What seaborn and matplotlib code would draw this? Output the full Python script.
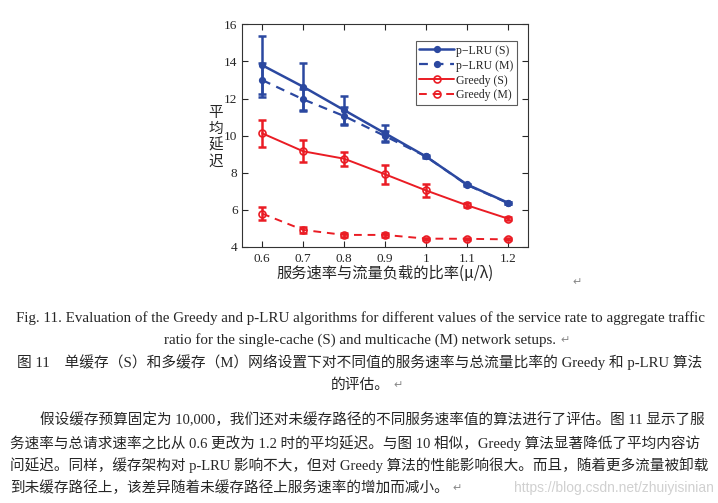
import numpy as np
import pandas as pd
import matplotlib.pyplot as plt
import seaborn as sns

# values
ratio = [0.6, 0.7, 0.8, 0.9, 1.0, 1.1, 1.2]
plru_s = [13.8, 12.64, 11.38, 10.13, 8.88, 7.37, 6.39]
plru_s_err = [1.55, 1.3, 0.75, 0.45, 0.08, 0.05, 0.05]
plru_m = [13.0, 11.96, 11.06, 9.98, 8.88, 7.35, 6.37]
plru_m_err = [0.9, 0.55, 0.48, 0.25, 0.05, 0.04, 0.04]
greedy_s = [10.13, 9.16, 8.76, 7.92, 7.05, 6.25, 5.53]
greedy_s_err = [0.73, 0.6, 0.38, 0.5, 0.33, 0.12, 0.1]
greedy_m = [5.8, 4.92, 4.65, 4.65, 4.45, 4.44, 4.41]
greedy_m_err = [0.33, 0.15, 0.12, 0.1, 0.05, 0.05, 0.05]

series_names = ["p\u2212LRU (S)", "p\u2212LRU (M)", "Greedy (S)", "Greedy (M)"]
yticks = [4, 6, 8, 10, 12, 14, 16]
xticks = [0.6, 0.7, 0.8, 0.9, 1.0, 1.1, 1.2]
xticklabels = ["0.6", "0.7", "0.8", "0.9", "1", "1.1", "1.2"]

caption_en = [
    "Fig. 11. Evaluation of the Greedy and p-LRU algorithms for different values of the service rate to aggregate traffic",
    "ratio for the single-cache (S) and multicache (M) network setups.",
]
caption_cn = [
    "图 11\u3000单缓存（S）和多缓存（M）网络设置下对不同值的服务速率与总流量比率的 Greedy 和 p-LRU 算法",
    "的评估。",
]
paragraph = [
    "假设缓存预算固定为 10,000，我们还对未缓存路径的不同服务速率值的算法进行了评估。图 11 显示了服",
    "务速率与总请求速率之比从 0.6 更改为 1.2 时的平均延迟。与图 10 相似，Greedy 算法显著降低了平均内容访",
    "问延迟。同样，缓存架构对 p-LRU 影响不大，但对 Greedy 算法的性能影响很大。而且，随着更多流量被卸载",
    "到未缓存路径上，该差异随着未缓存路径上服务速率的增加而减小。",
]

sns.set_style("ticks", {"xtick.direction": "in", "ytick.direction": "in"})
plt.rcParams["font.family"] = ["Liberation Serif", "Noto Sans CJK SC", "DejaVu Sans"]

blue = "#2B48A0"
red = "#EA1C24"

df = pd.DataFrame({
    "ratio": ratio * 4,
    "delay": plru_s + plru_m + greedy_s + greedy_m,
    "err": plru_s_err + plru_m_err + greedy_s_err + greedy_m_err,
    "series": np.repeat(series_names, len(ratio)),
})

styles = {
    series_names[0]: dict(color=blue, ls="-", lw=1.8, marker="o", ms=4, mfc=blue),
    series_names[1]: dict(color=blue, ls=(0, (4, 3)), lw=1.6, marker="o", ms=4, mfc=blue),
    series_names[2]: dict(color=red, ls="-", lw=1.4, marker="o", ms=5, mfc="none"),
    series_names[3]: dict(color=red, ls=(0, (4, 3)), lw=1.4, marker="o", ms=5, mfc="none"),
}

fig = plt.figure(figsize=(7.18, 5.03), dpi=100)
ax = fig.add_axes([0.3366, 0.509, 0.3992, 0.4425])

for name in series_names:
    d = df[df["series"] == name]
    st = styles[name]
    ax.errorbar(d["ratio"], d["delay"], yerr=d["err"], fmt="none",
                ecolor=st["color"], elinewidth=1.8, capsize=3, capthick=1.8, zorder=2)
    sns.lineplot(data=d, x="ratio", y="delay", ax=ax, color=st["color"],
                 linestyle=st["ls"], linewidth=st["lw"], marker=st["marker"],
                 markersize=st["ms"], markerfacecolor=st["mfc"],
                 markeredgecolor=st["color"], markeredgewidth=1.2,
                 label=name, zorder=3)

ax.set_xlim(0.55, 1.25)
ax.set_ylim(4, 16)
ax.set_xticks(xticks)
ax.set_xticklabels(xticklabels)
ax.set_yticks(yticks)
ax.tick_params(axis="both", labelsize=9.5, top=True, right=True, length=4, width=0.8, pad=4)
ax.tick_params(axis="y", pad=3)
for s in ax.spines.values():
    s.set_linewidth(0.8)
    s.set_color("#333333")
ax.set_xlabel("服务速率与流量负载的比率(μ/λ)", fontsize=11,
              family=["Noto Sans CJK SC", "DejaVu Sans"], labelpad=0)
ax.set_ylabel("")
fig.text(216 / 718, 1 - 137 / 503, "平\n均\n延\n迟", fontsize=10.5, ha="center", va="center",
         family=["Noto Sans CJK SC"], linespacing=1.2)

leg = ax.legend(loc="upper right", bbox_to_anchor=(0.96, 0.925), fontsize=8.5,
                frameon=True, fancybox=False, edgecolor="#333333", handlelength=2.9,
                handletextpad=0.2, borderpad=0.3, labelspacing=0.25, borderaxespad=0)
leg.get_frame().set_linewidth(0.8)


def return_mark(anchor):
    # small grey paragraph mark right after a line of text
    ax.annotate("\u21b5", xy=(1, 0.5), xycoords=anchor, xytext=(3, 0),
                textcoords="offset points", fontsize=8, color="#888888",
                ha="left", va="center", family=["DejaVu Sans"], annotation_clip=False)


fig.text(577 / 718, 1 - 282 / 503, "\u21b5", fontsize=8, color="#888888", ha="center",
         va="center", family=["DejaVu Sans"])

en_y = [318, 340]
for t, y in zip(caption_en, en_y):
    txt = fig.text(360 / 718, 1 - y / 503, t, fontsize=10.8, ha="center", va="center",
                   family=["Liberation Serif"])
return_mark(txt)

cn_y = [362, 385]
for t, y in zip(caption_cn, cn_y):
    txt = fig.text(360 / 718, 1 - y / 503, t, fontsize=10.6, ha="center", va="center",
                   family=["Liberation Serif", "Noto Sans CJK SC"])
return_mark(txt)

par_y = [420, 443, 465, 488]
par_x = [40, 10, 10, 10]
for t, x, y in zip(paragraph, par_x, par_y):
    txt = fig.text(x / 718, 1 - y / 503, t, fontsize=10.5, ha="left", va="center",
                   family=["Liberation Serif", "Noto Sans CJK SC"])
return_mark(txt)
fig.text(714 / 718, 1 - 488 / 503, "https://blog.csdn.net/zhuiyisinian", fontsize=10,
         color="#D0D0D0", ha="right", va="center", family=["Liberation Sans"])

fig.savefig("out.png", dpi=100, facecolor="white")
